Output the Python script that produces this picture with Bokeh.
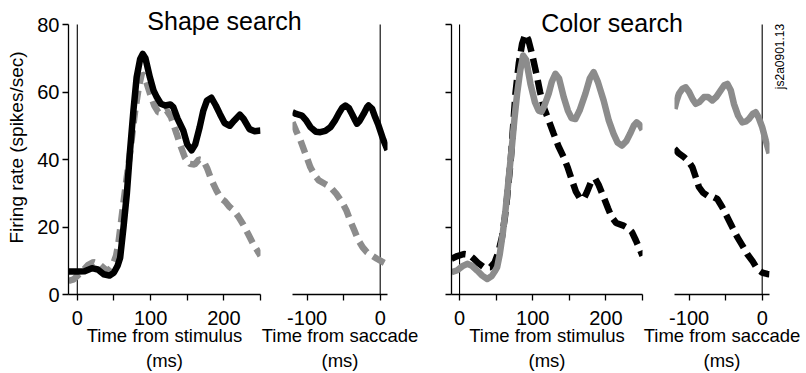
import math
from bokeh.plotting import figure
from bokeh.layouts import row
from bokeh.models import Range1d, FixedTicker, Label
from bokeh.embed import file_html
from bokeh.resources import INLINE

# ---------------- data ----------------
# Shape search, aligned on stimulus onset
shape_stim_t_target = [-12, 0, 10, 20, 28, 36, 44, 50, 55, 58.5, 63, 67.6, 72, 76.6, 81, 85.8, 89.3, 93, 99,
                       104, 108.4, 114, 120, 127, 131, 137, 144.6, 150, 156, 161, 167, 172, 177, 183, 189,
                       194.6, 201, 208, 214, 221.8, 227, 235, 242, 250]
shape_stim_target = [6.8, 6.8, 6.9, 7.8, 7.4, 6.0, 5.6, 6.5, 8.5, 10.9, 19.8, 29.8, 42.7, 54.5, 64.4, 69.8, 71.3,
                     70.0, 64.4, 60.5, 58.5, 56.5, 56.0, 56.3, 55.5, 52.0, 48.6, 44.5, 42.7, 44.5, 49.6, 54.5,
                     57.5, 58.3, 56.0, 53.5, 50.8, 50.0, 51.5, 53.3, 52.0, 49.0, 48.4, 48.6]
shape_stim_t_distr = [-12, -5, 5, 15, 22, 30, 38, 42.6, 48, 53, 56, 60, 64, 67.6, 72, 79, 84, 88, 92, 99.3, 105,
                      110.6, 116, 122, 128, 135.6, 141, 147, 153.7, 160, 166, 171.8, 177, 183, 190, 196, 202,
                      208, 214, 220, 226, 233, 240, 250]
shape_stim_distr = [4.0, 4.5, 6.5, 8.8, 9.6, 9.0, 7.5, 7.1, 8.5, 11.5, 15.0, 22.0, 29.0, 34.8, 42.0, 54.5, 61.5,
                    65.4, 64.5, 59.5, 56.0, 54.0, 53.8, 54.5, 52.5, 47.6, 44.0, 40.5, 38.7, 38.5, 40.0, 39.7,
                    37.5, 34.0, 30.8, 28.5, 27.5, 25.9, 24.8, 23.0, 20.9, 18.0, 15.0, 11.5]

# Shape search, aligned on saccade onset
shape_sacc_t_target = [-120, -115, -107, -101, -95.5, -88, -82, -75, -68, -62, -57, -52, -47.7, -43, -38.6, -34,
                       -31.8, -28, -22.7, -18, -15.9, -11, -6.8, -3, 0, 4, 10]
shape_sacc_target = [54.0, 53.5, 53.0, 51.5, 49.6, 48.2, 48.1, 48.5, 49.6, 51.5, 53.5, 55.3, 56.0, 55.3, 53.5,
                     51.5, 50.6, 51.5, 53.5, 55.5, 56.0, 55.0, 52.5, 50.5, 48.6, 46.0, 42.8]
shape_sacc_t_distr = [-120, -115, -109, -102, -95.5, -90, -84, -76, -68, -60, -52, -46, -41, -35, -29.6, -24,
                      -18, -11, -4.5, 2, 10]
shape_sacc_distr = [51.0, 48.5, 45.6, 41.5, 37.7, 35.5, 33.8, 32.8, 31.8, 29.8, 27.3, 24.8, 21.9, 18.8, 16.0,
                    14.0, 12.5, 11.5, 10.6, 9.8, 8.9]

# Color search, aligned on stimulus onset
color_stim_t_target = [-11, -3, 4, 10.5, 17, 24, 31, 37.8, 44, 48, 51.4, 55, 59, 62.8, 67, 71.9, 75, 78.7, 83,
                       86.9, 91, 96.9, 103, 108, 112, 116, 121.8, 126, 131, 136, 142.3, 148, 153, 158.3, 164,
                       172, 178, 183.2, 189, 196.9, 204, 210.5, 216, 222, 228, 233, 238, 242, 246, 250]
color_stim_target = [6.6, 7.2, 8.4, 9.1, 8.5, 7.1, 5.6, 4.6, 5.5, 6.8, 8.1, 12.0, 18.0, 24.9, 34.0, 44.7, 52.0,
                     59.5, 66.5, 70.8, 69.5, 62.4, 57.0, 54.5, 54.2, 56.0, 59.5, 63.0, 65.4, 64.0, 58.5, 54.5,
                     52.3, 52.0, 54.5, 59.5, 64.0, 65.9, 63.0, 57.5, 51.5, 47.6, 45.0, 44.1, 45.5, 47.6, 50.0,
                     51.0, 50.3, 48.8]
color_stim_t_distr = [-11, -3, 6, 13, 19.5, 26, 33, 42.3, 48, 53, 58, 62, 65, 70, 76.4, 81, 85.5, 90, 94, 99,
                      106, 110, 115, 122, 128.7, 135, 142.3, 148, 153.7, 159, 165, 170, 174, 180, 185.5, 190,
                      197, 203, 208, 214, 224, 230, 235.6, 241, 247, 250]
color_stim_distr = [10.6, 11.4, 12.0, 11.8, 10.6, 9.2, 8.1, 8.1, 9.5, 12.5, 17.0, 23.0, 28.8, 40.0, 59.5, 68.5,
                    74.3, 77.2, 75.5, 71.3, 64.4, 60.0, 55.5, 51.5, 47.6, 44.0, 40.7, 37.5, 33.8, 30.5, 28.3,
                    28.5, 30.3, 33.5, 34.3, 32.5, 28.8, 25.5, 22.9, 21.2, 20.4, 19.7, 18.5, 16.0, 13.0, 11.5]

# Color search, aligned on saccade onset
color_sacc_t_target = [-120, -117, -113.8, -109, -104.6, -100, -95, -91, -86, -79.7, -74, -68.3, -63, -57, -52,
                       -47.7, -43, -38.7, -33, -27.3, -22, -18.2, -13, -9, -5, 0, 5, 10]
color_sacc_target = [55.0, 57.5, 59.5, 61.0, 61.4, 60.0, 57.8, 56.5, 57.0, 58.5, 58.5, 57.5, 58.5, 60.4, 62.0,
                     62.4, 60.5, 56.5, 53.0, 51.0, 51.3, 52.0, 53.5, 54.0, 52.5, 49.6, 45.5, 41.8]
color_sacc_t_distr = [-120, -114, -107, -101, -95.5, -91, -86.5, -81, -75, -68, -61.4, -55, -47.7, -41, -34,
                      -27, -20.5, -13, -6.8, 0, 6.8, 10]
color_sacc_distr = [43.2, 41.8, 40.7, 39.5, 37.7, 34.8, 31.8, 30.2, 29.3, 29.0, 28.3, 26.0, 22.9, 20.0, 17.0,
                    14.5, 12.0, 9.8, 7.6, 6.5, 6.1, 6.0]

y_ticks = [0, 20, 40, 60, 80]
y_bounds = (0, 80)
zero_line_t = [0, 0]
zero_line_rate = [0, 80]
stim_ticks = [0, 100, 200]
stim_minor = [50, 150, 250]
sacc_ticks = [-100, 0]
sacc_minor = [-50]
sacc_tick_labels = {-100: "-100", 0: "0"}
titles = ["Shape search", "Color search"]
stim_label = "Time from stimulus\n(ms)"
sacc_label = "Time from saccade\n(ms)"
y_label = "Firing rate (spikes/sec)"
file_tag = "js2a0901.13"

# ---------------- styling / layout ----------------
FONT = "Liberation Sans"
W, H = 806, 373
BOTTOM = 79                 # space under the plotting frames
FRAME_H = H - BOTTOM        # frames run from the very top of the canvas
AXIS_PX = 270               # pixel height of the 0..80 axis
Y_TOP = y_bounds[1] * FRAME_H / AXIS_PX
GRAY = "#8c8c8c"
LW = 6.5


def make_panel(x0, x1, mbl, mbr, ticks, minor, xlabel, with_y, shift, overrides=None):
    p = figure(width=W, height=H, x_range=Range1d(x0, x1), y_range=Range1d(0, Y_TOP),
               output_backend="svg", toolbar_location=None,
               min_border_left=mbl, min_border_right=mbr, min_border_top=0, min_border_bottom=BOTTOM,
               background_fill_color=None, border_fill_color=None, outline_line_color=None,
               y_axis_location="left" if with_y else None,
               margin=(0, 0, 0, -W if shift else 0))
    p.xgrid.visible = False
    p.ygrid.visible = False
    axes = [p.xaxis[0]] + ([p.yaxis[0]] if with_y else [])
    for ax in axes:
        ax.axis_line_color = "black"
        ax.axis_line_width = 1.3
        ax.major_tick_line_color = "black"
        ax.minor_tick_line_color = "black"
        ax.major_tick_line_width = 1.3
        ax.minor_tick_line_width = 1.3
        ax.major_tick_out = 6
        ax.major_tick_in = 0
        ax.minor_tick_out = 6
        ax.minor_tick_in = 0
        ax.major_label_text_font = FONT
        ax.major_label_text_font_size = "20px"
        ax.major_label_text_color = "black"
        ax.axis_label_text_font = FONT
        ax.axis_label_text_font_style = "normal"
        ax.axis_label_text_color = "black"
    if with_y:
        p.yaxis[0].bounds = y_bounds
    xa = p.xaxis[0]
    xa.ticker = FixedTicker(ticks=ticks, minor_ticks=minor)
    if overrides:
        xa.major_label_overrides = overrides
    xa.major_label_standoff = 10
    xa.axis_label = xlabel
    xa.axis_label_text_font_size = "18.5px"
    xa.axis_label_standoff = -3
    # alignment line at time zero
    p.line(zero_line_t, zero_line_rate, line_color="black", line_width=1.1)
    return p


# Panel 1: shape search, stimulus aligned
p1 = make_panel(-12, 250, 68, 546, stim_ticks, stim_minor, stim_label, True, False)
ya = p1.yaxis[0]
ya.ticker = FixedTicker(ticks=y_ticks)
ya.major_label_standoff = 3
ya.axis_label = y_label
ya.axis_label_text_font_size = "19px"
ya.axis_label_standoff = 7
p1.line(shape_stim_t_distr, shape_stim_distr, line_color=GRAY, line_width=LW, line_dash="13 7")
p1.line(shape_stim_t_target, shape_stim_target, line_color="black", line_width=LW, line_join="round")

# Panel 2: shape search, saccade aligned
p2 = make_panel(-120, 10, 292, 419, sacc_ticks, sacc_minor, sacc_label, False, True, sacc_tick_labels)
p2.line(shape_sacc_t_distr, shape_sacc_distr, line_color=GRAY, line_width=LW, line_dash="13 7")
p2.line(shape_sacc_t_target, shape_sacc_target, line_color="black", line_width=LW, line_join="round")

# Panel 3: color search, stimulus aligned
p3 = make_panel(-11, 250, 451, 164, stim_ticks, stim_minor, stim_label, True, True)
ya3 = p3.yaxis[0]
ya3.ticker = FixedTicker(ticks=[], minor_ticks=y_ticks)
p3.line(color_stim_t_distr, color_stim_distr, line_color="black", line_width=LW, line_dash="15 7")
p3.line(color_stim_t_target, color_stim_target, line_color=GRAY, line_width=LW, line_join="round")

# Panel 4: color search, saccade aligned
p4 = make_panel(-120, 10, 674, 37, sacc_ticks, sacc_minor, sacc_label, False, True, sacc_tick_labels)
p4.line(color_sacc_t_distr, color_sacc_distr, line_color="black", line_width=LW, line_dash="15 7")
p4.line(color_sacc_t_target, color_sacc_target, line_color=GRAY, line_width=LW, line_join="round")

# Transparent overlay in page-pixel coordinates carrying the free-standing texts
ov = figure(width=W, height=H, x_range=Range1d(0, W), y_range=Range1d(FRAME_H, 0),
            output_backend="svg", toolbar_location=None, x_axis_location=None, y_axis_location=None,
            min_border_left=0, min_border_right=0, min_border_top=0, min_border_bottom=BOTTOM,
            background_fill_color=None, border_fill_color=None, outline_line_color=None,
            margin=(0, 0, 0, -W))
ov.xgrid.visible = False
ov.ygrid.visible = False
ov.add_layout(Label(x=224, y=20.6, text=titles[0], text_font=FONT, text_font_size="25px",
                    text_align="center", text_baseline="middle", text_color="black"))
ov.add_layout(Label(x=611.5, y=22.6, text=titles[1], text_font=FONT, text_font_size="25px",
                    text_align="center", text_baseline="middle", text_color="black"))
ov.add_layout(Label(x=779, y=56, text=file_tag, text_font=FONT, text_font_size="12px",
                    angle=math.pi / 2, text_align="center", text_baseline="middle", text_color="black"))

layout = row(p1, p2, p3, p4, ov, width=W, height=H)
open("out.html", "w").write(file_html(layout, INLINE))
